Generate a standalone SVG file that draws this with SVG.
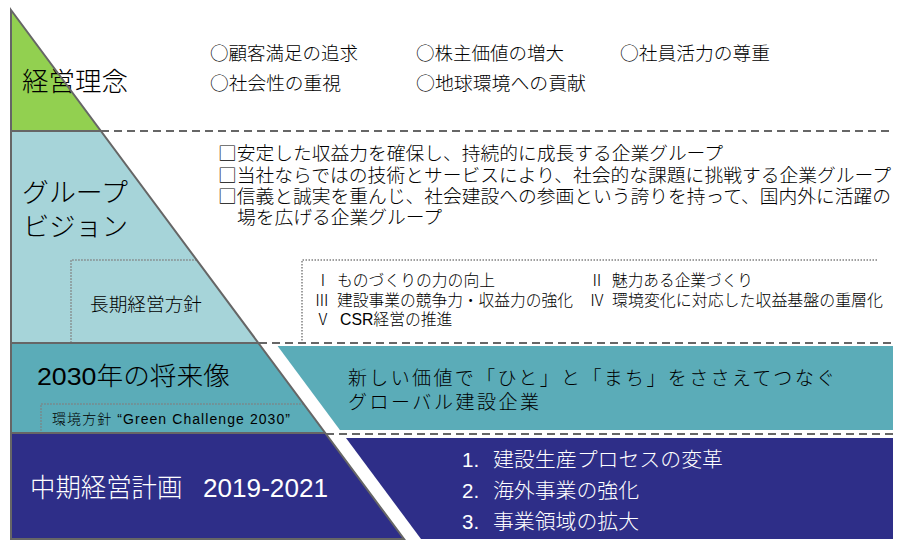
<svg xmlns="http://www.w3.org/2000/svg" width="906" height="551" viewBox="0 0 906 551">
<style>
text{font-family:"Liberation Sans","Noto Sans CJK JP",sans-serif;fill:#000;font-weight:300}
.j{font-family:"Noto Sans CJK JP","Liberation Sans",sans-serif}
.wt{fill:#fff}
.edge{stroke:#666;stroke-width:2;fill:none;stroke-linejoin:miter}
.dash{stroke:#666;stroke-width:2;stroke-dasharray:8 5;fill:none}
.dot{stroke:#808080;stroke-width:1.5;stroke-dasharray:1.5 1.5;fill:none}
.title{font-size:26.5px}
.top{font-size:18.5px}
.vis{font-size:18.7px}
.pol{font-size:15.8px}
.mid{font-size:19px}
.plan{font-size:20.5px}
</style>
<rect width="906" height="551" fill="#fff"/>

<g id="tier-philosophy">
<polygon points="11,10 100.9,131 11,131" fill="#92D050"/>
<text class="title j" x="22" y="91" textLength="106" lengthAdjust="spacingAndGlyphs">経営理念</text>
</g>

<g id="philosophy-items">
<text class="top j" x="210" y="60" textLength="148" lengthAdjust="spacingAndGlyphs">○顧客満足の追求</text>
<text class="top j" x="416" y="60" textLength="148" lengthAdjust="spacingAndGlyphs">○株主価値の増大</text>
<text class="top j" x="620" y="60" textLength="150" lengthAdjust="spacingAndGlyphs">○社員活力の尊重</text>
<text class="top j" x="210" y="90" textLength="131" lengthAdjust="spacingAndGlyphs">○社会性の重視</text>
<text class="top j" x="416" y="90" textLength="170" lengthAdjust="spacingAndGlyphs">○地球環境への貢献</text>
</g>

<g id="tier-vision">
<polygon points="11,131 100.9,131 258.4,343 11,343" fill="#A6D4D9"/>
<text class="title j" x="22" y="202" textLength="106" lengthAdjust="spacingAndGlyphs">グループ</text>
<text class="title j" x="23" y="236" textLength="105" lengthAdjust="spacingAndGlyphs">ビジョン</text>
</g>

<g id="vision-items">
<text class="vis j" x="218" y="160" textLength="505" lengthAdjust="spacingAndGlyphs">□安定した収益力を確保し、持続的に成長する企業グループ</text>
<text class="vis j" x="218" y="181.5" textLength="673" lengthAdjust="spacingAndGlyphs">□当社ならではの技術とサービスにより、社会的な課題に挑戦する企業グループ</text>
<text class="vis j" x="218" y="202.5" textLength="673" lengthAdjust="spacingAndGlyphs">□信義と誠実を重んじ、社会建設への参画という誇りを持って、国内外に活躍の</text>
<text class="vis j" x="237" y="224" textLength="205" lengthAdjust="spacingAndGlyphs">場を広げる企業グループ</text>
</g>

<g id="long-term-policy">
<path class="dot" d="M196.7,260 H71 V343"/>
<text class="j" x="90" y="311" font-size="18.5" textLength="112" lengthAdjust="spacingAndGlyphs">長期経営方針</text>
</g>

<g id="long-term-policy-items">
<path class="dot" d="M877,260 H302 V342"/>
<text class="pol j" y="286"><tspan x="315">Ⅰ </tspan><tspan x="337" textLength="158" lengthAdjust="spacingAndGlyphs">ものづくりの力の向上</tspan></text>
<text class="pol j" y="286"><tspan x="589">Ⅱ </tspan><tspan x="612" textLength="141" lengthAdjust="spacingAndGlyphs">魅力ある企業づくり</tspan></text>
<text class="pol j" y="306"><tspan x="314">Ⅲ </tspan><tspan x="337" textLength="236" lengthAdjust="spacingAndGlyphs">建設事業の競争力・収益力の強化</tspan></text>
<text class="pol j" y="306"><tspan x="589">Ⅳ </tspan><tspan x="612" textLength="271" lengthAdjust="spacingAndGlyphs">環境変化に対応した収益基盤の重層化</tspan></text>
<text class="pol" y="325"><tspan class="j" x="315">Ⅴ </tspan><tspan x="340">CSR経営の推進</tspan></text>
</g>

<g id="tier-2030">
<polygon points="11,343 258.4,343 325.3,433 11,433" fill="#5BACB8"/>
<text x="37" y="385" font-size="24.5" font-weight="400" textLength="193" lengthAdjust="spacingAndGlyphs">2030年の将来像</text>
<path class="dot" d="M303.7,404 H41 V433"/>
<text x="52" y="424" font-size="14" textLength="238" lengthAdjust="spacing">環境方針 “Green Challenge 2030”</text>
</g>

<g id="vision-2030-band">
<polygon points="277.6,346 893,346 893,430 339.9,430" fill="#5BACB8"/>
<text class="mid j" x="348" y="385" textLength="487" lengthAdjust="spacing">新しい価値で「ひと」と「まち」をささえてつなぐ</text>
<text class="mid j" x="348" y="409" textLength="191" lengthAdjust="spacing">グローバル建設企業</text>
</g>

<g id="tier-midterm">
<polygon points="11,433 325.3,433 404,539 11,539" fill="#2E2E88"/>
<text class="wt" y="497" font-size="26"><tspan class="j" x="30" textLength="158" lengthAdjust="spacingAndGlyphs">中期経営計画 </tspan><tspan x="203" textLength="125" lengthAdjust="spacingAndGlyphs">2019-2021</tspan></text>
</g>

<g id="midterm-band">
<polygon points="346,438 893,438 893,539 421,539" fill="#2E2E88"/>
<text class="plan wt" y="467"><tspan x="462">1. </tspan><tspan class="j" x="493" textLength="230" lengthAdjust="spacingAndGlyphs">建設生産プロセスの変革</tspan></text>
<text class="plan wt" y="498"><tspan x="462">2. </tspan><tspan class="j" x="493" textLength="146" lengthAdjust="spacingAndGlyphs">海外事業の強化</tspan></text>
<text class="plan wt" y="529"><tspan x="462">3. </tspan><tspan class="j" x="493" textLength="146" lengthAdjust="spacingAndGlyphs">事業領域の拡大</tspan></text>
</g>

<g id="connectors">
<path class="edge" d="M11,10 L404,539 L11,539 Z"/>
<path class="edge" d="M11,131 H100.9 M11,343 H258.4 M11,433 H325.3"/>
<path class="dash" d="M101,131 H893 M259,343 H893 M326,434 H893"/>
</g>
</svg>
